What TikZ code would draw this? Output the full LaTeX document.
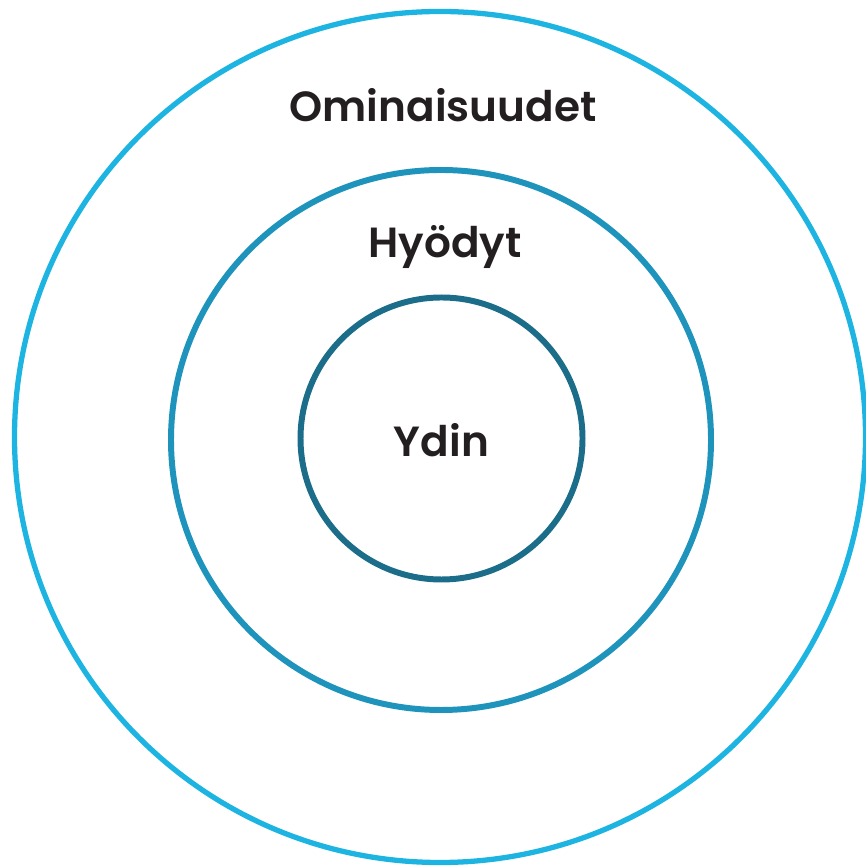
\documentclass[tikz,border=0pt]{standalone}
\usepackage{fontspec}
\setmainfont{Poppins}[BoldFont={* SemiBold}]
\usetikzlibrary{positioning}
\definecolor{ringout}{HTML}{1DB4E2}
\definecolor{ringmid}{HTML}{1E93BC}
\definecolor{ringin}{HTML}{1B6D89}
\definecolor{txt}{HTML}{231F20}
\tikzset{label/.style={anchor=base,text=txt,font=\fontsize{24}{27}\selectfont\bfseries}}
\begin{document}
\begin{tikzpicture}
  \useasboundingbox (0,0) rectangle (17.3,17.36);
  \draw[ringout,line width=3pt] (8.8,8.62) circle (8.51);
  \draw[ringmid,line width=3.4pt] (8.82,8.56) circle (5.4);
  \draw[ringin,line width=3.4pt] (8.83,8.59) circle (2.82);
  \node[label] (omin) at (8.86,14.92) {Ominaisuudet};
  \node[label] (hyod) at (8.9,12.2) {Hyödyt};
  \node[label] (ydin) at (8.83,8.22) {Ydin};
\end{tikzpicture}
\end{document}
